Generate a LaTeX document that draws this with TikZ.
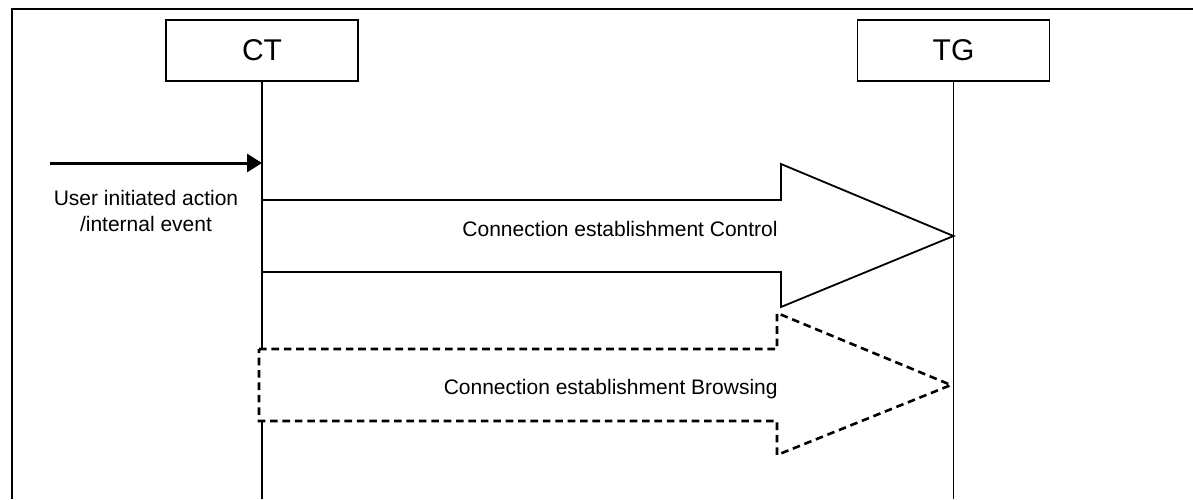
\documentclass[tikz,border=0pt]{standalone}
\usepackage{fontspec}
\setmainfont{Liberation Sans}
\usetikzlibrary{arrows.meta}

\begin{document}
\begin{tikzpicture}[x=0.5pt,y=-0.5pt,
	entity/.style={draw, line width=0.8pt, minimum width=96pt, minimum height=30.5pt, inner sep=0pt, font=\fontsize{15}{18}\selectfont},
	lifeline/.style={line width=0.7pt},
	msglabel/.style={inner sep=0pt, align=center, font=\fontsize{10.5}{13}\selectfont}
]

\def\width{1193}
\def\height{499}
\def\ctx{262}
\def\tgx{953.5}

\path [use as bounding box] (0,0) rectangle (\width,\height);

% FRAME
\draw [line width=0.8pt] (12,\height) -- (12,9) -- (\width,9);

% ENTITIES
\node [entity] (ct) at (\ctx,50.5) {CT};
\node [entity] (tg) at (\tgx,50.5) {TG};
\coordinate (ctend) at (\ctx,\height);
\coordinate (tgend) at (\tgx,\height);

% LIFELINES
\draw [lifeline] (ct.south) -- (ctend);
\draw [lifeline] (tg.south) -- (tgend);

% TRIGGER
\coordinate (trig) at (50,163);
\draw [line width=1.5pt, -{Triangle[length=7.5pt, width=9pt]}] (trig) -- (trig -| ct.south);
\node [msglabel] (triglabel) at (146,211) {User initiated action\\/internal event};

% CONTROL
\filldraw [line width=0.9pt, fill=white] (\ctx,200)
	-- (781,200) -- (781,164) -- (\tgx,236) -- (781,307) -- (781,272)
	-- (\ctx,272) -- cycle;
\node [msglabel, anchor=east] (ctrl) at (778,229) {Connection establishment Control};

% BROWSING
\filldraw [line width=1.3pt, fill=white, dash pattern=on 3.8pt off 2.4pt] (259,349)
	-- (777,349) -- (777,313) -- (951,385) -- (777,455) -- (777,421)
	-- (259,421) -- cycle;
\node [msglabel, anchor=east] (brws) at (778,389) {Connection establishment Browsing};

\end{tikzpicture}
\end{document}
